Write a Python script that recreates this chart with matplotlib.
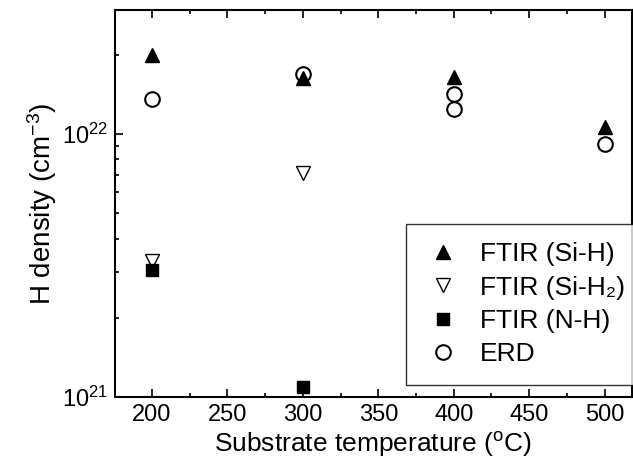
import numpy as np
import matplotlib
matplotlib.use('Agg')
import matplotlib.pyplot as plt
from matplotlib.ticker import LogLocator, NullFormatter, MultipleLocator

# ==================== 字体 ====================
plt.rcParams['font.family'] = ['Liberation Sans', 'DejaVu Sans']
plt.rcParams['mathtext.fontset'] = 'custom'
plt.rcParams['mathtext.rm'] = 'Liberation Sans'
plt.rcParams['mathtext.it'] = 'Liberation Sans'
plt.rcParams['mathtext.default'] = 'regular'

# ==================== 数据====================
temp_sih = [200, 300, 400, 500]
sih = [2.0e22, 1.63e22, 1.65e22, 1.06e22]

temp_sih2 = [200, 300]
sih2 = [3.3e21, 7.1e21]

temp_nh = [200, 300]
nh = [3.04e21, 1.09e21]

temp_erd = [200, 300, 400, 400, 500]
erd = [1.36e22, 1.69e22, 1.42e22, 1.24e22, 9.2e21]

# ==================== 作图 ====================
fig = plt.figure(figsize=(6.33, 4.73), dpi=100)
ax = fig.add_axes([0.1817, 0.1607, 0.8163, 0.818])

ax.plot(temp_sih, sih, '^', color='black', ms=10, label='FTIR (Si-H)')
ax.plot(temp_sih2, sih2, 'v', mfc='white', mec='black', mew=1.0, ms=10,
        label='FTIR (Si-H\u2082)')
ax.plot(temp_nh, nh, 's', color='black', ms=8.5, label='FTIR (N-H)')
ax.plot(temp_erd, erd, 'o', mfc='none', mec='black', mew=1.5, ms=10.5, label='ERD')

ax.set_yscale('log')
ax.set_xlim(175.5, 518)
ax.set_ylim(1e21, 2.96e22)

ax.xaxis.set_major_locator(MultipleLocator(50))
ax.xaxis.set_minor_locator(MultipleLocator(25))
ax.yaxis.set_major_locator(LogLocator(base=10))
ax.yaxis.set_minor_locator(LogLocator(base=10, subs=np.arange(2, 10)))
ax.yaxis.set_minor_formatter(NullFormatter())

ax.tick_params(which='both', direction='in', top=True, right=False,
               labelsize=17, width=1.2)
ax.tick_params(which='major', length=6, pad=5)
ax.tick_params(which='minor', length=3)
for s in ax.spines.values():
    s.set_linewidth(1.5)

ax.set_xlabel('Substrate temperature ($^{o}$C)', fontsize=19, labelpad=3)
ax.set_ylabel('H density (cm$^{-3}$)', fontsize=20, labelpad=2)

leg = ax.legend(loc='upper left', bbox_to_anchor=(406 / 633, 1 - 224 / 473),
                bbox_transform=fig.transFigure, fontsize=19, frameon=True,
                fancybox=False, edgecolor='black', handletextpad=0.7,
                borderpad=0.7, labelspacing=0.35, handlelength=1.4,
                borderaxespad=0)
leg.get_frame().set_linewidth(1.0)

plt.savefig('out.png', dpi=100)
plt.close()
